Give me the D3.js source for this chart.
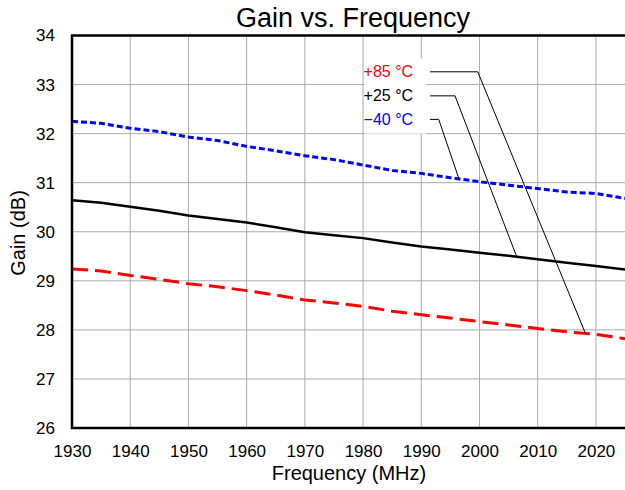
<!DOCTYPE html>
<html>
<head>
<meta charset="utf-8">
<script src="https://cdn.jsdelivr.net/npm/d3@7"></script>
<style>
  body { margin: 0; background: #fff; }
  text { font-family: "Liberation Sans", Arial, sans-serif; fill: #000; }
  .tick text { font-size: 17px; }
  .grid line { stroke: #ababab; stroke-width: 1; }
  .title { font-size: 27px; }
  .label { font-size: 20px; }
  .note { font-size: 16px; }
</style>
</head>
<body>
<svg width="625" height="490"></svg>
<script>
const freq = [1930, 1935, 1940, 1945, 1950, 1955, 1960, 1965, 1970, 1975,
              1980, 1985, 1990, 1995, 2000, 2005, 2010, 2015, 2020, 2025];
const gainM40 = [32.25, 32.21, 32.11, 32.04, 31.93, 31.86, 31.74, 31.65, 31.55, 31.47,
                 31.36, 31.25, 31.19, 31.10, 31.02, 30.95, 30.88, 30.81, 30.78, 30.68];
const gain25 = [30.64, 30.59, 30.51, 30.43, 30.33, 30.26, 30.19, 30.09, 29.99, 29.93,
                29.87, 29.78, 29.70, 29.64, 29.57, 29.51, 29.44, 29.37, 29.30, 29.23];
const gain85 = [29.24, 29.20, 29.11, 29.03, 28.94, 28.88, 28.80, 28.71, 28.61, 28.55,
                28.48, 28.38, 28.31, 28.24, 28.17, 28.10, 28.03, 27.96, 27.91, 27.82];
const xTicks = [1930, 1940, 1950, 1960, 1970, 1980, 1990, 2000, 2010, 2020];
const yTicks = [26, 27, 28, 29, 30, 31, 32, 33, 34];

// label text, colour, leader line: [elbow freq, label gain] -> [curve freq, curve gain]
const notes = [
    {text: '+85 °C', color: '#ff0000', gain: 33.26, elbow: 1999.7, at: [2018.2, 27.93]},
    {text: '+25 °C', color: '#000000', gain: 32.77, elbow: 1995.8, at: [2006.4, 29.49]},
    {text: '\u221240 °C', color: '#0000ff', gain: 32.29, elbow: 1993.0, at: [1996.5, 31.07]}
];

const render = () => {
    const svg = d3.select('svg');
    const width = +svg.attr('width');
    const height = +svg.attr('height');
    const margin = {left: 72, right: 0, top: 35.5, bottom: 62};
    const inner = {
        width: width - margin.left - margin.right,
        height: height - margin.top - margin.bottom
    };

    const xScale = d3.scaleLinear().domain([1930, 2025]).range([0, inner.width]);
    const yScale = d3.scaleLinear().domain([26, 34]).range([inner.height, 0]);

    const g = svg.append('g')
        .attr('transform', `translate(${margin.left},${margin.top})`);

    // grid
    const grid = g.append('g').attr('class', 'grid');
    grid.selectAll('.gx').data(xTicks.slice(1)).enter().append('line')
        .attr('x1', d => xScale(d)).attr('x2', d => xScale(d))
        .attr('y1', 0).attr('y2', inner.height);
    grid.selectAll('.gy').data(yTicks.slice(1, -1)).enter().append('line')
        .attr('x1', 0).attr('x2', inner.width)
        .attr('y1', d => yScale(d)).attr('y2', d => yScale(d));

    // white box behind the labels
    g.append('rect')
        .attr('x', xScale(1980.2))
        .attr('y', yScale(33.53))
        .attr('width', xScale(1990.9) - xScale(1980.2))
        .attr('height', yScale(32.0) - yScale(33.53))
        .attr('fill', '#fff');

    const xAxis = d3.axisBottom(xScale).tickValues(xTicks).tickSize(0).tickPadding(17)
        .tickFormat(d3.format('d'));
    const yAxis = d3.axisLeft(yScale).tickValues(yTicks).tickSize(0).tickPadding(17);

    g.append('g').attr('transform', `translate(0,${inner.height})`).call(xAxis)
        .call(a => a.select('.domain').remove());
    g.append('g').call(yAxis)
        .call(a => a.select('.domain').remove());

    const line = ys => d3.line()
        .x((d, i) => xScale(freq[i]))
        .y(d => yScale(d))(ys);

    g.append('path').attr('d', line(gainM40))
        .attr('fill', 'none').attr('stroke', '#0000ff')
        .attr('stroke-width', 3).attr('stroke-dasharray', '6,3');
    g.append('path').attr('d', line(gain25))
        .attr('fill', 'none').attr('stroke', '#000')
        .attr('stroke-width', 2.5);
    g.append('path').attr('d', line(gain85))
        .attr('fill', 'none').attr('stroke', '#ff0000')
        .attr('stroke-width', 3).attr('stroke-dasharray', '16,7');

    // frame: top, left, bottom
    g.append('path')
        .attr('d', `M${inner.width},0H0V${inner.height}H${inner.width}`)
        .attr('fill', 'none').attr('stroke', '#000').attr('stroke-width', 2.5);

    // labels and leader lines
    notes.forEach(n => {
        g.append('text')
            .attr('class', 'note')
            .attr('x', xScale(1988.6))
            .attr('y', yScale(n.gain))
            .attr('dy', '0.35em')
            .attr('text-anchor', 'end')
            .style('fill', n.color)
            .text(n.text);
        g.append('path')
            .attr('d', `M${xScale(1991.5)},${yScale(n.gain)}H${xScale(n.elbow)}L${xScale(n.at[0])},${yScale(n.at[1])}`)
            .attr('fill', 'none').attr('stroke', '#000').attr('stroke-width', 1);
    });

    svg.append('text')
        .attr('class', 'title')
        .attr('x', 353).attr('y', 27)
        .attr('text-anchor', 'middle')
        .text('Gain vs. Frequency');
    svg.append('text')
        .attr('class', 'label')
        .attr('x', 349).attr('y', 480)
        .attr('text-anchor', 'middle')
        .text('Frequency (MHz)');
    svg.append('text')
        .attr('class', 'label')
        .attr('transform', 'translate(25,233) rotate(-90)')
        .attr('text-anchor', 'middle')
        .text('Gain (dB)');
};

render();
</script>
</body>
</html>
